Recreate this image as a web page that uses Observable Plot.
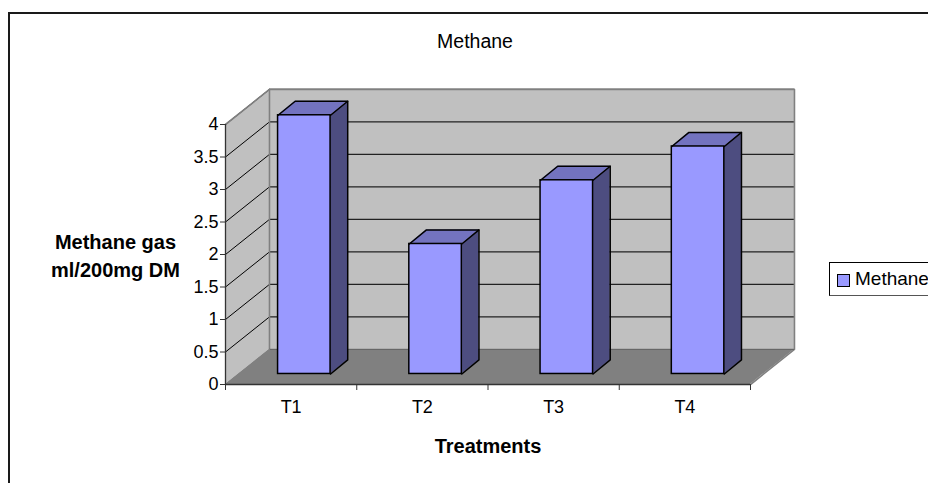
<!DOCTYPE html>
<html>
<head>
<meta charset="utf-8">
<script src="https://cdn.jsdelivr.net/npm/d3@7"></script>
<script src="https://cdn.jsdelivr.net/npm/@observablehq/plot@0.6"></script>
<style>
html,body{margin:0;padding:0;background:#fff}
#wrap{position:relative;width:928px;height:483px;overflow:hidden;font-family:"Liberation Sans",Arial,sans-serif;color:#000}
#frame{position:absolute;left:8px;top:12px;width:1000px;height:1000px;border:2px solid #1a1a1a}
#chart{position:absolute;left:0;top:0}
#chart svg{background:transparent;overflow:visible}
#legend{position:absolute;left:829px;top:262px;width:200px;height:34px;border:1px solid #000;border-bottom-color:#555;background:#fff;box-sizing:border-box}
#swatch{position:absolute;left:7px;top:11px;width:13px;height:13px;background:#9999ff;border:1.5px solid #000;box-sizing:border-box}
#legendLabel{position:absolute;left:25px;top:5px;font-size:19px;white-space:nowrap}
</style>
</head>
<body>
<div id="wrap">
  <div id="frame"></div>
  <div id="chart"></div>
  <div id="legend"><div id="swatch"></div><div id="legendLabel"></div></div>
</div>
<script>
const chartTitle = "Methane";
const seriesName = "Methane";
const categories = ["T1", "T2", "T3", "T4"];
const methane = [3.98, 2, 2.98, 3.5];
const yTicks = [0, 0.5, 1, 1.5, 2, 2.5, 3, 3.5, 4];
const xTicks = [0, 1, 2, 3, 4];
const yAxisLines = ["Methane gas", "ml/200mg DM"];
const xAxisLabel = "Treatments";

// Oblique depth of the 3-D box, in scale units
const depthX = 0.335, depthY = 0.54;
const barNear = 0.30, barDepthX = 0.39, barDepthY = 0.40, barWidth = 0.4;

const bars = categories.map((c, i) => {
  const mid = i + 0.5;
  const v = methane[i];
  const x0 = mid - barWidth / 2 + depthX * barNear;
  const x1 = x0 + barWidth;
  const y0 = depthY * barNear;
  const ax = depthX * barDepthX;
  const ay = depthY * barDepthY;
  return {c, v, x0, x1, y0, ax, ay};
});

const BAR = "#9999ff", TOP = "#7373bf", SIDE = "#4d4d80";
const WALL = "#c0c0c0", FLOOR = "#808080", EDGE = "#808080";

// Areas for the parallelogram faces
const floorPts = [{y: 0, x1: 0, x2: 4}, {y: depthY, x1: depthX, x2: 4 + depthX}];
const sideWall = [{x: 0, y1: 0, y2: 4}, {x: depthX, y1: depthY, y2: 4 + depthY}];
const topFaces = bars.flatMap(b => [
  {b: b.c, y: b.y0 + b.v, x1: b.x0, x2: b.x1},
  {b: b.c, y: b.y0 + b.v + b.ay, x1: b.x0 + b.ax, x2: b.x1 + b.ax}
]);
const sideFaces = bars.flatMap(b => [
  {b: b.c, x: b.x1, y1: b.y0, y2: b.y0 + b.v},
  {b: b.c, x: b.x1 + b.ax, y1: b.y0 + b.ay, y2: b.y0 + b.v + b.ay}
]);
const topOutline = bars.flatMap(b => [
  {b: b.c, x: b.x0, y: b.y0 + b.v},
  {b: b.c, x: b.x0 + b.ax, y: b.y0 + b.v + b.ay},
  {b: b.c, x: b.x1 + b.ax, y: b.y0 + b.v + b.ay},
  {b: b.c, x: b.x1 + b.ax, y: b.y0 + b.ay},
  {b: b.c, x: b.x1, y: b.y0}
]);
const topEdge = bars.flatMap(b => [
  {b: b.c, x: b.x1, y: b.y0 + b.v},
  {b: b.c, x: b.x1 + b.ax, y: b.y0 + b.v + b.ay}
]);
const gridDiag = yTicks.slice(1).flatMap(v => [
  {v, x: 0, y: v},
  {v, x: depthX, y: v + depthY}
]);
const wallOutline = [
  {x: 0, y: 4}, {x: depthX, y: 4 + depthY}, {x: 4 + depthX, y: 4 + depthY},
  {x: 4 + depthX, y: depthY}, {x: 4, y: 0}
];

const plot = Plot.plot({
  width: 928, height: 483,
  marginLeft: 225, marginRight: 178, marginTop: 124, marginBottom: 99,
  x: {domain: [0, 4]},
  y: {domain: [0, 4]},
  style: {fontFamily: '"Liberation Sans", Arial, sans-serif', color: "#000", background: "transparent"},
  marks: [
    // walls and floor
    Plot.rect([0], {x1: depthX, x2: 4 + depthX, y1: depthY, y2: 4 + depthY, fill: WALL}),
    Plot.areaY(sideWall, {x: "x", y1: "y1", y2: "y2", fill: WALL}),
    Plot.areaX(floorPts, {y: "y", x1: "x1", x2: "x2", fill: FLOOR}),
    // gridlines
    Plot.line(gridDiag, {x: "x", y: "y", z: "v", stroke: "#000", strokeWidth: 1}),
    Plot.ruleY(yTicks.slice(1), {y: d => d + depthY, x1: depthX, x2: 4 + depthX, stroke: "#222", strokeWidth: 1.2}),
    // wall edges
    Plot.line(wallOutline, {x: "x", y: "y", stroke: EDGE, strokeWidth: 1.6}),
    Plot.ruleX([depthX], {y1: depthY, y2: 4 + depthY, stroke: EDGE, strokeWidth: 1.6}),
    Plot.ruleY([depthY], {x1: depthX, x2: 4 + depthX, stroke: "#666", strokeWidth: 1.2}),
    Plot.line([{x: 0, y: 0}, {x: depthX, y: depthY}], {x: "x", y: "y", stroke: EDGE, strokeWidth: 1.2}),
    // bars
    Plot.areaX(topFaces, {y: "y", x1: "x1", x2: "x2", z: "b", fill: TOP}),
    Plot.areaY(sideFaces, {x: "x", y1: "y1", y2: "y2", z: "b", fill: SIDE}),
    Plot.rect(bars, {x1: "x0", x2: "x1", y1: "y0", y2: d => d.y0 + d.v, fill: BAR, stroke: "#000", strokeWidth: 1.5}),
    Plot.line(topOutline, {x: "x", y: "y", z: "b", stroke: "#000", strokeWidth: 1.5, strokeLinejoin: "round"}),
    Plot.line(topEdge, {x: "x", y: "y", z: "b", stroke: "#000", strokeWidth: 1.5}),
    // axes
    Plot.ruleY([0], {stroke: "#333", strokeWidth: 1.3}),
    Plot.ruleX([0], {y1: 0, y2: 4, stroke: "#333", strokeWidth: 1.3}),
    Plot.axisY({ticks: yTicks, tickSize: 5, tickPadding: 2, tickFormat: d => String(d), fontSize: 18, stroke: "#333", label: null}),
    Plot.axisX({ticks: xTicks, tickSize: 6, tickFormat: () => "", stroke: "#333", label: null}),
    Plot.text(categories, {x: (d, i) => i + 0.5, y: 0, dy: 23, text: d => d, fontSize: 18, fill: "#000"}),
    // titles
    Plot.text([chartTitle], {x: 2, y: 4, dy: -83, dx: -13, text: d => d, fontSize: 19.5, fill: "#000"}),
    Plot.text([xAxisLabel], {x: 2, y: 0, dy: 62, text: d => d, fontSize: 20, fontWeight: "bold", fill: "#000"}),
    Plot.text([yAxisLines.join("\n")], {x: 0, y: 2, dx: -110, dy: 0, lineHeight: 1.4, text: d => d, fontSize: 20, fontWeight: "bold", fill: "#000"})
  ]
});
document.getElementById("chart").appendChild(plot);
document.getElementById("legendLabel").textContent = seriesName;
</script>
</body>
</html>
